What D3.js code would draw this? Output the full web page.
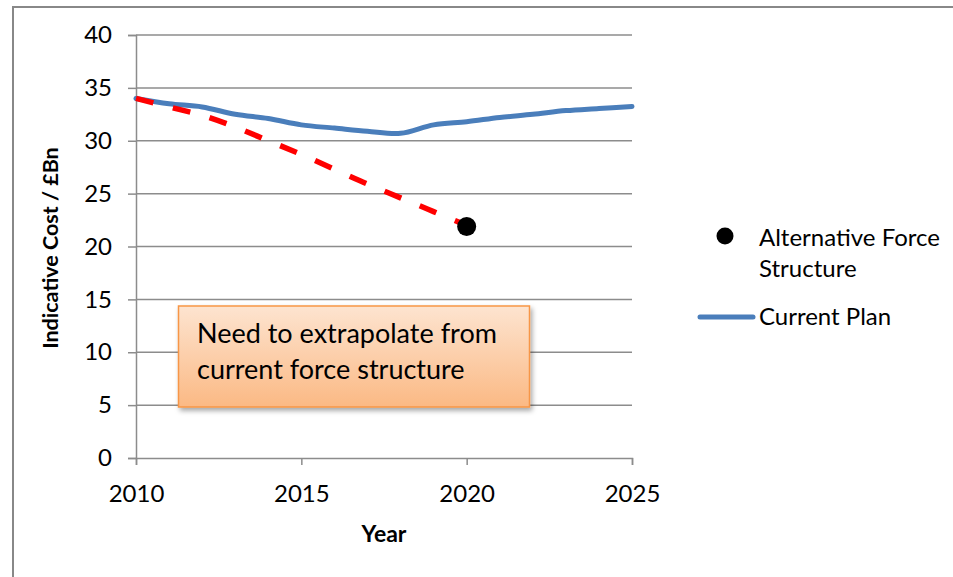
<!DOCTYPE html>
<html><head><meta charset="utf-8">
<script src="https://cdn.jsdelivr.net/npm/d3@7"></script>
<style>body{margin:0;background:#fff}svg{display:block}text{font-family:Lato,"Open Sans",sans-serif}</style>
</head><body>
<svg id="c" width="953" height="577"></svg>
<script>
const years = [2010,2011,2012,2013,2014,2015,2016,2017,2018,2019,2020,2021,2022,2023,2024,2025];
const currentPlan = [34.0,33.5,33.2,32.5,32.1,31.5,31.2,30.9,30.7,31.5,31.8,32.2,32.5,32.85,33.05,33.25];
const extrapYears = [2010,2011,2012,2013,2014,2015,2016,2017,2018,2019,2020];
const extrapValues = [34.0,33.2,32.4,31.3,30.0,28.7,27.3,25.9,24.6,23.3,22.0];
const altYears = [2020];
const altValues = [21.9];
const yTicks = [0,5,10,15,20,25,30,35,40];
const xTicks = [2010,2015,2020,2025];
const legendLabels = [["Alternative Force","Structure"],["Current Plan"]];
const noteLines = ["Need to extrapolate from","current force structure"];

const svg = d3.select("#c");
const defs = svg.append("defs");
const g1 = defs.append("linearGradient").attr("id","og").attr("x1",0).attr("y1",0).attr("x2",0).attr("y2",1);
g1.append("stop").attr("offset","0%").attr("stop-color","#fde4d0");
g1.append("stop").attr("offset","100%").attr("stop-color","#fbb984");
const f = defs.append("filter").attr("id","sh").attr("x","-10%").attr("y","-10%").attr("width","130%").attr("height","140%");
f.append("feDropShadow").attr("dx",2).attr("dy",3).attr("stdDeviation",2.5).attr("flood-color","#000").attr("flood-opacity",0.35);

// outer chart border
svg.append("rect").attr("x",13).attr("y",7).attr("width",960).attr("height",600)
  .attr("fill","none").attr("stroke","#888").attr("stroke-width",2);

const x = d3.scaleLinear().domain([2010,2025]).range([136,632]);
const y = d3.scaleLinear().domain([0,40]).range([458,35]);

// gridlines
svg.append("g").selectAll("line").data(yTicks.filter(d=>d>0)).join("line")
  .attr("x1",x(2010)).attr("x2",x(2025)).attr("y1",d=>y(d)).attr("y2",d=>y(d))
  .attr("stroke","#8c8c8c").attr("stroke-width",1.5);

// y axis
const ya = svg.append("g").attr("transform",`translate(${x(2010)},0)`)
  .call(d3.axisLeft(y).tickValues(yTicks).tickSize(8).tickPadding(16));
ya.select(".domain").attr("stroke","#8c8c8c").attr("stroke-width",1.5);
ya.selectAll(".tick line").attr("stroke","#8c8c8c").attr("stroke-width",1.5);
ya.selectAll(".tick text").attr("font-size",24).attr("fill","#000").attr("font-family","Lato");

// x axis
const xa = svg.append("g").attr("transform",`translate(0,${y(0)})`)
  .call(d3.axisBottom(x).tickValues(xTicks).tickFormat(d3.format("d")).tickSize(7).tickPadding(20));
xa.select(".domain").attr("stroke","#8c8c8c").attr("stroke-width",1.5);
xa.selectAll(".tick line").attr("stroke","#8c8c8c").attr("stroke-width",1.5);
xa.selectAll(".tick text").attr("font-size",24).attr("fill","#000").attr("font-family","Lato");

// axis titles
svg.append("text").attr("x",384).attr("y",542).attr("text-anchor","middle")
  .attr("font-size",23).attr("font-weight","bold").text("Year");
svg.append("text").attr("transform","translate(58,248) rotate(-90)").attr("text-anchor","middle")
  .attr("font-size",21.5).attr("font-weight","bold").text("Indicative Cost / £Bn");

// current plan line
const line = d3.line().x(d=>x(d[0])).y(d=>y(d[1])).curve(d3.curveCatmullRom.alpha(0.5));
svg.append("path").datum(years.map((d,i)=>[d,currentPlan[i]]))
  .attr("d",line).attr("fill","none").attr("stroke","#4a7ebb").attr("stroke-width",5).attr("stroke-linecap","round");

// extrapolation
svg.append("path").datum(extrapYears.map((d,i)=>[d,extrapValues[i]]))
  .attr("d",line).attr("fill","none").attr("stroke","#ff0000").attr("stroke-width",5.5)
  .attr("stroke-dasharray","18,20").attr("stroke-linecap","butt");

// alternative marker
svg.append("g").selectAll("circle").data(altYears.map((d,i)=>[d,altValues[i]])).join("circle")
  .attr("cx",d=>x(d[0])).attr("cy",d=>y(d[1])).attr("r",9.5).attr("fill","#000");

// note box
const nb = svg.append("g");
nb.append("rect").attr("x",178.5).attr("y",306).attr("width",351).attr("height",101)
  .attr("fill","url(#og)").attr("stroke","#f79646").attr("stroke-width",1.5).attr("filter","url(#sh)");
nb.selectAll("text").data(noteLines).join("text")
  .attr("x",197).attr("y",(d,i)=>343+i*36).attr("font-size",27).attr("fill","#000").text(d=>d);

// legend
svg.append("circle").attr("cx",725).attr("cy",236).attr("r",8.5).attr("fill","#000");
svg.append("text").attr("font-size",24).selectAll("tspan").data(legendLabels[0]).join("tspan")
  .attr("x",759).attr("y",(d,i)=>246+i*31).text(d=>d);
svg.append("line").attr("x1",700).attr("x2",753).attr("y1",317).attr("y2",317)
  .attr("stroke","#4a7ebb").attr("stroke-width",5).attr("stroke-linecap","round");
svg.append("text").attr("font-size",24).attr("x",759).attr("y",325).text(legendLabels[1][0]);
</script>
</body></html>
